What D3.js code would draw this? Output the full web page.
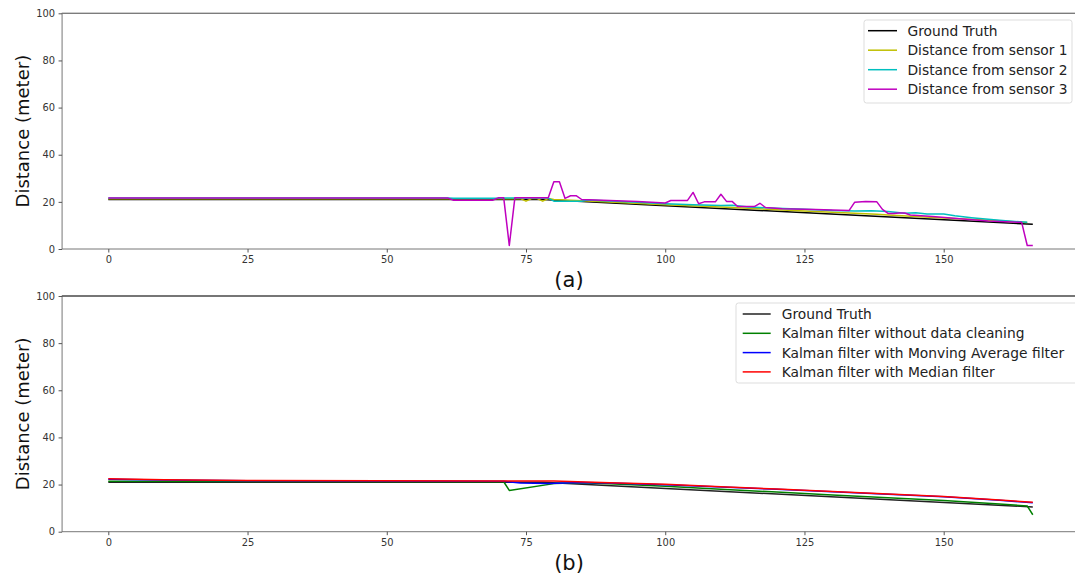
<!DOCTYPE html>
<html><head><meta charset="utf-8">
<script src="https://cdn.jsdelivr.net/npm/d3@7"></script>
<style>
body{margin:0;background:#fff;}
svg{display:block;font-family:"DejaVu Sans",sans-serif;}
</style></head>
<body>
<svg id="c" width="1075" height="578"></svg>
<script>
// ---------- data (vertices: [x, distance]) ----------
const xTicks = [0, 25, 50, 75, 100, 125, 150];
const yTicks = [0, 20, 40, 60, 80, 100];
const xDomain = [-8.3, 174.3];

const groundTruth = [[0,21],[78,21],[166,10.5]];

const sensor1 = [[0,21.3],[61,21.3],[70,21.3],[74,21.4],[75,20.3],[76,21.4],[77,21.4],[78,20.3],[79,21.4],[80,21],[85,20.5],[90,19.9],[100,18.8],[110,17.8],[120,16.7],[130,15.6],[138,14.7],[140,14.4],[150,13.2],[160,12],[165,11.2]];

const sensor2 = [[0,21.6],[61,21.6],[62,21.5],[70,21.5],[71,21.6],[79,21.6],[80,20.3],[85,20.3],[86,20.8],[95,19.8],[100,19.2],[105,18.8],[110,18.5],[112,18.6],[115,17.8],[120,17.3],[125,16.9],[130,16.3],[134,16.1],[137,16.2],[140,15.9],[143,15.2],[145,15.4],[147,14.9],[150,14.8],[152,14.1],[155,13.3],[160,12.2],[165,11.3]];

const sensor3 = [[0,21.6],[61,21.6],[62,20.7],[69,20.7],[70,21.7],[71,21.7],[72,1.5],[73,21.7],[79,21.7],[80,28.5],[81,28.5],[82,21.5],[83,22.6],[84,22.6],[85,21],[90,20.6],[95,20.1],[100,19.5],[101,20.6],[104,20.6],[105,24],[106,19.2],[107,20],[109,20],[110,23.2],[111,20.2],[112,20.2],[113,18],[116,18],[117,19.4],[118,17.6],[121,17.1],[127,16.8],[133,16.3],[134,19.8],[136,20.2],[138,20],[139,16.8],[140,15.1],[141,15.1],[142,15.3],[143,15.3],[144,14.4],[148,13.8],[154,12.6],[158,11.9],[164,11.3],[165,1.5],[166,1.5]];

const kalmanRaw = [[0,21.4],[71,21.2],[72,17.5],[80,20.4],[85,20.8],[90,20.3],[100,19.3],[110,18],[120,16.8],[130,15.6],[140,14.4],[150,13.2],[160,11.8],[165,10.9],[166,7.2]];
const kalmanMA = [[0,22.3],[10,21.9],[25,21.6],[71,21.4],[74,20.7],[79,20.4],[85,20.9],[90,20.7],[100,19.9],[110,19],[120,18],[130,17],[140,15.9],[150,14.8],[160,13.3],[166,12.3]];
const kalmanMed = [[0,22.5],[10,22],[25,21.7],[80,21.5],[90,20.8],[100,20.1],[110,19.1],[120,18.1],[130,17.1],[140,16],[150,14.9],[160,13.4],[166,12.5]];

const legendA = ["Ground Truth","Distance from sensor 1","Distance from sensor 2","Distance from sensor 3"];
const legendB = ["Ground Truth","Kalman filter without data cleaning","Kalman filter with Monving Average filter","Kalman filter with Median filter"];

// ---------- drawing ----------
const svg = d3.select("#c");
const x = d3.scaleLinear().domain([0,150]).range([108.3,943.7]);
const xL = x(xDomain[0]), xR = x(xDomain[1]);

function panel(top, bottom, series, colors, legendTexts, legBox, caption, capY, topSpineColor){
  const y = d3.scaleLinear().domain([0,100]).range([bottom, top]);
  const g = svg.append("g");
  // frame
  g.append("rect").attr("x",xL).attr("y",top).attr("width",xR-xL).attr("height",bottom-top)
    .attr("fill","none").attr("stroke","#777").attr("stroke-width",1);
  g.append("line").attr("x1",xL).attr("x2",xR).attr("y1",top).attr("y2",top)
    .attr("stroke",topSpineColor).attr("stroke-width",1);
  // axes
  const ax = g.append("g").attr("transform",`translate(0,${bottom})`)
    .call(d3.axisBottom(x).tickValues(xTicks).tickSize(3.5).tickPadding(3.5));
  const ay = g.append("g").attr("transform",`translate(${xL},0)`)
    .call(d3.axisLeft(y).tickValues(yTicks).tickSize(3.5).tickPadding(3.5));
  [ax,ay].forEach(a=>{
    a.select(".domain").remove();
    a.selectAll(".tick line").attr("stroke","#555");
    a.selectAll(".tick text").attr("fill","#333").style("font-size","9.9px").style("font-family","DejaVu Sans");
  });
  // y label
  g.append("text").attr("transform",`translate(29,${(top+bottom)/2}) rotate(-90)`)
    .attr("text-anchor","middle").style("font-size","18px").attr("fill","#111")
    .text("Distance (meter)");
  // lines
  const line = d3.line().x(d=>x(d[0])).y(d=>y(d[1]));
  series.forEach((s,i)=>{
    g.append("path").attr("d",line(s)).attr("fill","none").attr("stroke",colors[i])
      .attr("stroke-width",1.5).attr("stroke-linejoin","round");
  });
  // legend
  g.append("rect").attr("x",legBox.x).attr("y",legBox.y).attr("width",legBox.w).attr("height",legBox.h)
    .attr("rx",2.5).attr("fill","#fff").attr("fill-opacity",0.85).attr("stroke","#ddd");
  legendTexts.forEach((t,i)=>{
    const yy = legBox.row0 + i*legBox.dy;
    g.append("line").attr("x1",legBox.lx1).attr("x2",legBox.lx2).attr("y1",yy).attr("y2",yy)
      .attr("stroke",colors[i]).attr("stroke-width",1.5);
    g.append("text").attr("x",legBox.tx).attr("y",yy).attr("dy","0.36em")
      .style("font-size","13.8px").attr("fill","#222").text(t);
  });
  // caption
  g.append("text").attr("x",569).attr("y",capY).attr("text-anchor","middle")
    .attr("dy","0.36em").style("font-size","21px").attr("fill","#111").text(caption);
}

panel(13.3, 249, [groundTruth, sensor1, sensor2, sensor3],
  ["#000000","#bfbf00","#00bfbf","#bf00bf"], legendA,
  {x:864,y:20,w:208,h:83,row0:30.7,dy:19.5,lx1:868,lx2:897,tx:907.5},
  "(a)", 279, "#777");

panel(296, 531.7, [groundTruth, kalmanRaw, kalmanMA, kalmanMed],
  ["#222222","#008000","#0000ff","#ff0000"], legendB,
  {x:736,y:303,w:345,h:80,row0:314,dy:19.3,lx1:742.7,lx2:770.7,tx:781.7},
  "(b)", 562, "#333");
</script>
</body></html>
